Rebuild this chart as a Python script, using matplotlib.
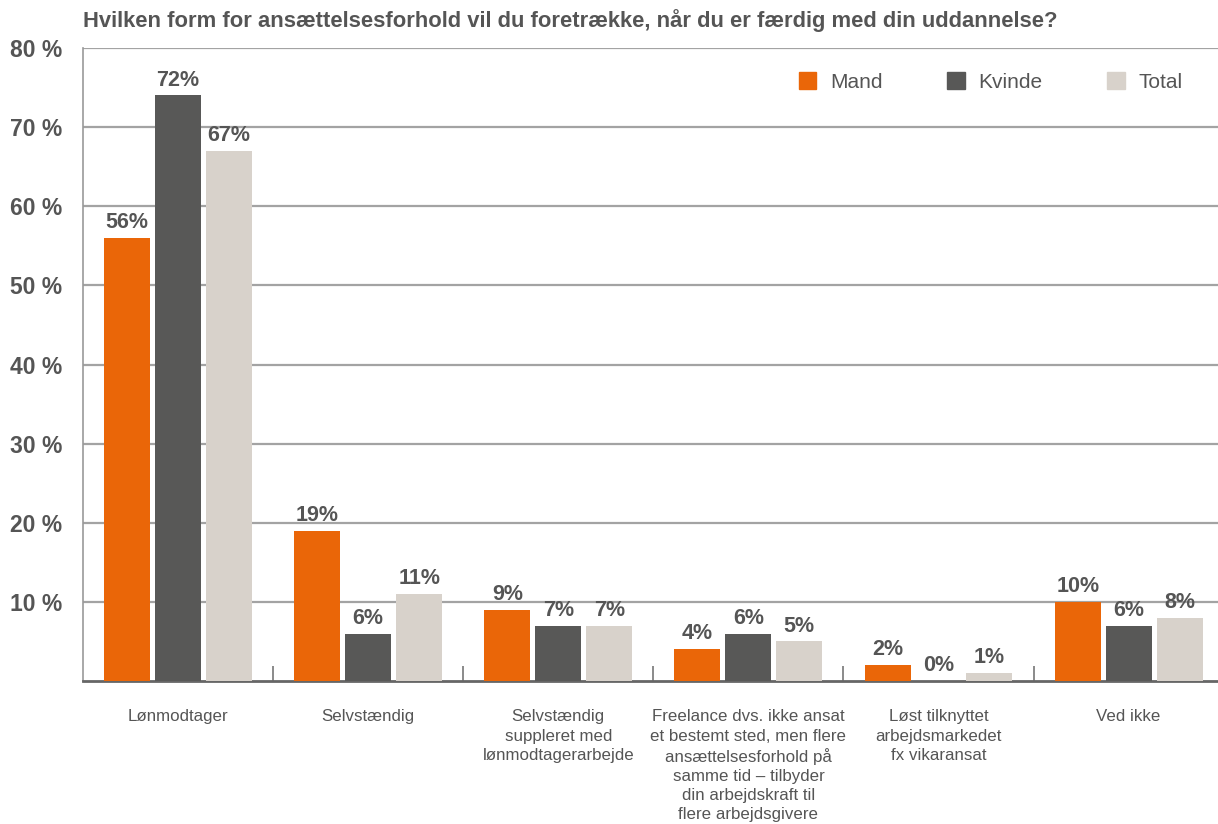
import numpy as np
import matplotlib.pyplot as plt
from matplotlib.patches import Patch

plt.rcParams['font.family'] = ['Liberation Sans', 'DejaVu Sans']

categories = ['Lønmodtager', 'Selvstændig',
              'Selvstændig\nsuppleret med\nlønmodtagerarbejde',
              'Freelance dvs. ikke ansat\net bestemt sted, men flere\nansættelsesforhold på\nsamme tid – tilbyder\ndin arbejdskraft til\nflere arbejdsgivere',
              'Løst tilknyttet\narbejdsmarkedet\nfx vikaransat',
              'Ved ikke']
series = ['Mand', 'Kvinde', 'Total']
# bar heights as drawn in the original
mand = [56, 19, 9, 4, 2, 10]
kvinde = [74, 6, 7, 6, 0, 7]
total = [67, 11, 7, 5, 1, 8]
# printed value labels
mand_lbl = ['56%', '19%', '9%', '4%', '2%', '10%']
kvinde_lbl = ['72%', '6%', '7%', '6%', '0%', '6%']
total_lbl = ['67%', '11%', '7%', '5%', '1%', '8%']
yticks = [10, 20, 30, 40, 50, 60, 70, 80]

colors = ['#EA6608', '#585857', '#D8D2CB']
txt = '#555555'

fig = plt.figure(figsize=(12.18, 8.24), dpi=100)
ax = fig.add_axes([83 / 1218, 1 - 681 / 824, 1 - 83 / 1218, (681 - 48) / 824])

x = np.arange(len(categories))
w = 0.242
off = 0.268
for i, (vals, lbls) in enumerate(zip([mand, kvinde, total], [mand_lbl, kvinde_lbl, total_lbl])):
    bars = ax.bar(x + (i - 1) * off, vals, width=w, color=colors[i], zorder=3, label=series[i])
    for b, l in zip(bars, lbls):
        ax.annotate(l, (b.get_x() + b.get_width() / 2, b.get_height()),
                    xytext=(0, 3.5), textcoords='offset points', ha='center', va='bottom',
                    fontsize=15.5, fontweight='bold', color=txt)

ax.set_xlim(-0.5, 5.47)
ax.set_ylim(0, 80)
ax.set_yticks(yticks)
ax.set_yticklabels([f'{v} %' for v in yticks], fontsize=16.5, fontweight='bold', color=txt, ha='left')
ax.tick_params(axis='y', length=0, pad=52.6)
ax.grid(axis='y', color='#A3A3A3', linewidth=1.6, zorder=0)

ax.set_xticks(x)
ax.set_xticklabels(categories, fontsize=12.2, color=txt, va='top', linespacing=1.34)
ax.tick_params(axis='x', which='major', length=0, pad=20.5)
ax.set_xticks(np.arange(0.5, 5, 1), minor=True)
ax.tick_params(axis='x', which='minor', direction='in', length=11, width=1.2, color='#777777')

for s in ['top', 'right']:
    ax.spines[s].set_visible(False)
ax.spines['left'].set_color('#999999')
ax.spines['left'].set_linewidth(1.2)
ax.spines['bottom'].set_color('#666666')
ax.spines['bottom'].set_linewidth(2)

handles = [Patch(color=c) for c in colors]
ax.legend(handles, series, loc='upper right', bbox_to_anchor=(0.985, 0.991), ncol=3,
          frameon=False, fontsize=15, labelcolor=txt, handlelength=0.85, handleheight=0.85,
          handletextpad=0.65, columnspacing=3.1)

fig.text(83 / 1218, 1 - 27 / 824, 'Hvilken form for ansættelsesforhold vil du foretrække, når du er færdig med din uddannelse?',
         fontsize=15.85, fontweight='bold', color=txt, ha='left', va='baseline')

fig.savefig('out.png', dpi=100)
